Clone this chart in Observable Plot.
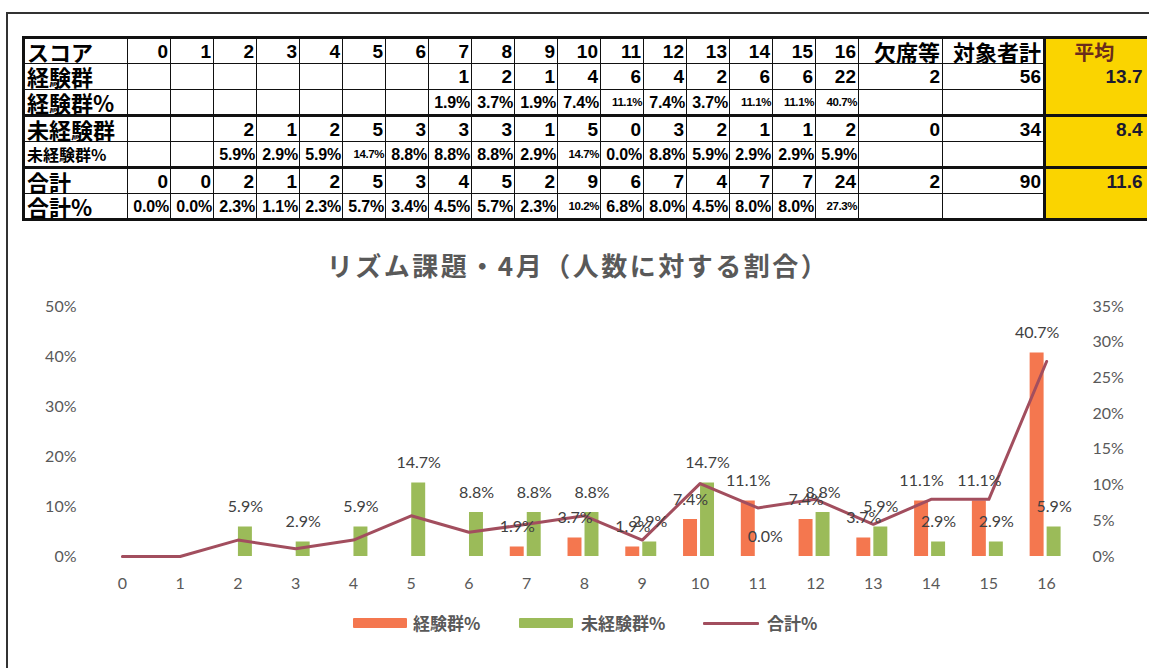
<!DOCTYPE html>
<html><head><meta charset="utf-8">
<script src="https://cdn.jsdelivr.net/npm/d3@7"></script>
<script src="https://cdn.jsdelivr.net/npm/@observablehq/plot@0.6"></script>
<style>
html,body{margin:0;padding:0;background:#fff;}
#page{position:relative;width:1149px;height:668px;overflow:hidden;background:#fff;}
#frame{position:absolute;left:6px;top:12px;width:1200px;height:700px;border-top:2px solid #333;border-left:2px solid #333;}
#tbl{position:absolute;left:22px;top:36px;border-collapse:collapse;table-layout:fixed;}
#tbl tr{height:26px;}
#tbl td{height:23px;padding:0 2px 0 0;border:1.5px solid #111;font:bold 19px/23px "Liberation Sans",Arial,sans-serif;text-align:right;color:#000;white-space:nowrap;vertical-align:middle;}
#tbl td.lab{text-align:left;font:bold 22px/23px "Noto Sans CJK JP",sans-serif;padding-left:2px;}
#tbl td.lab.small{font-size:16px;}
#tbl td.pct{font-size:16px;letter-spacing:-0.2px;padding-right:1px;}
#tbl td.pct.tiny{font-size:11.5px;letter-spacing:-0.4px;}
#tbl td.head{font:bold 22px/23px "Noto Sans CJK JP",sans-serif;}
#tbl tr.sep td{border-bottom:3px solid #111;}
#tbl tr.first td{border-top:3px solid #111;}
#tbl tr.last td{border-bottom:3px solid #111;}
#tbl td.c0{border-left:3px solid #111;}
#tbl td.cend{border-right:3px solid #111;}
#tbl td.avg{background:#FAD400;border-top:none;border-right:none;border-bottom:none;color:#1c1a30;padding-right:4px;}
#tbl td.avg.h{text-align:center;font:bold 20px/23px "Noto Sans CJK JP",sans-serif;color:#6a2c1c;}
#title{position:absolute;left:0;top:250px;width:1156px;text-align:center;font:bold 26px/30px "Noto Sans CJK JP",sans-serif;letter-spacing:2.5px;color:#595959;}
#chart{position:absolute;left:0;top:290px;}
.lg{position:absolute;top:612px;font:bold 17px/22px "Noto Sans CJK JP",sans-serif;color:#595959;}
.sw{position:absolute;height:10px;top:618px;border-radius:1px;}
</style></head>
<body><div id="page"><div id="frame"></div><table id="tbl"></table>
<div id="title">リズム課題・4月（人数に対する割合）</div>
<div id="chart"></div>
<div class="sw" style="left:353px;width:54px;background:#F4774F"></div><div class="lg" style="left:413px">経験群%</div>
<div class="sw" style="left:519px;width:54px;background:#9BBB59"></div><div class="lg" style="left:581px">未経験群%</div>
<div class="sw" style="left:703px;width:56px;height:3px;top:622px;background:#A24E5E"></div><div class="lg" style="left:767px">合計%</div>
</div>
<script>
const scores = ["0","1","2","3","4","5","6","7","8","9","10","11","12","13","14","15","16"];
const expCount = [null,null,null,null,null,null,null,1,2,1,4,6,4,2,6,6,22];
const expPct = [null,null,null,null,null,null,null,1.9,3.7,1.9,7.4,11.1,7.4,3.7,11.1,11.1,40.7];
const inexpCount = [null,null,2,1,2,5,3,3,3,1,5,0,3,2,1,1,2];
const inexpPct = [null,null,5.9,2.9,5.9,14.7,8.8,8.8,8.8,2.9,14.7,0.0,8.8,5.9,2.9,2.9,5.9];
const totalCount = [0,0,2,1,2,5,3,4,5,2,9,6,7,4,7,7,24];
const totalPct = [0.0,0.0,2.3,1.1,2.3,5.7,3.4,4.5,5.7,2.3,10.2,6.8,8.0,4.5,8.0,8.0,27.3];
const absent = [2,0,2];
const subjects = [56,34,90];
const averages = [13.7,8.4,11.6];
const rowLabels = ["経験群","経験群%","未経験群","未経験群%","合計","合計%"];
const headerLabel = "スコア", absentLabel = "欠席等", subjectLabel = "対象者計", avgLabel = "平均";
const leftTicks = [0,10,20,30,40,50];
const rightTicks = [0,5,10,15,20,25,30,35];
const seriesNames = ["経験群%","未経験群%","合計%"];
const leftMax = 50, rightMax = 35;

// ---- table ----
const tbl = document.getElementById("tbl");
const cg = document.createElement("colgroup");
[104, ...scores.map(()=>43), 84, 102, 102].forEach(w=>{const c=document.createElement("col");c.style.width=w+"px";cg.appendChild(c);});
tbl.appendChild(cg);
function addRow(cells, cls){
  const tr=document.createElement("tr"); if(cls) tr.className=cls;
  cells.forEach(([t,c])=>{const td=document.createElement("td");td.textContent=t;if(c)td.className=c;tr.appendChild(td);});
  tbl.appendChild(tr);
}
const fmtP = v => v==null ? "" : v.toFixed(1)+"%";
const pc = v => "pct" + (v!=null && fmtP(v).length>4 ? " tiny" : "");
addRow([[headerLabel,"lab c0"],...scores.map(s=>[s,""]),[absentLabel,"head"],[subjectLabel,"head cend"],[avgLabel,"avg h"]],"first");
const counts=[expCount,inexpCount,totalCount], pcts=[expPct,inexpPct,totalPct];
for(let g=0;g<3;g++){
  addRow([[rowLabels[2*g],"lab c0"],...counts[g].map(v=>[v==null?"":String(v),""]),[String(absent[g]),""],[String(subjects[g]),"cend"],[averages[g].toFixed(1),"avg"]]);
  addRow([[rowLabels[2*g+1],"lab c0"+(g===1?" small":"")],...pcts[g].map(v=>[fmtP(v),pc(v)]),["",""],["","cend"],["","avg"]], g<2?"sep":"last");
}

// ---- chart ----
const expRows = scores.map((s,i)=>({s,v:expPct[i]})).filter(d=>d.v!=null);
const inexpRows = scores.map((s,i)=>({s,v:inexpPct[i]})).filter(d=>d.v!=null);
const totalRows = scores.map((s,i)=>({s,v:totalPct[i]}));
const k = leftMax/rightMax;
const orange="#F4774F", green="#9BBB59", rose="#A24E5E";
const chart = Plot.plot({
  width:1149, height:310,
  marginLeft:93, marginRight:74, marginTop:16, marginBottom:44,
  x:{type:"band", domain:scores, padding:0, round:false},
  y:{domain:[0,leftMax]},
  style:{fontFamily:"Lato, 'Noto Sans', sans-serif", fontSize:"16px", color:"#595959", background:"transparent"},
  marks:[
    Plot.axisY({ticks:leftTicks, tickFormat:d=>d+"%", tickSize:0, tickPadding:17, label:null}),
    Plot.axisY({anchor:"right", ticks:rightTicks.map(t=>t*k), tickFormat:d=>Math.round(d/k)+"%", tickSize:0, tickPadding:17, label:null}),
    Plot.axisX({tickSize:0, tickPadding:21, label:null}),
    Plot.barY(expRows,{x:"s", y:"v", fill:orange, insetLeft:12.4, insetRight:31.4}),
    Plot.barY(inexpRows,{x:"s", y:"v", fill:green, insetLeft:29.4, insetRight:14.4}),
    Plot.line(totalRows,{x:"s", y:d=>d.v*k, stroke:rose, strokeWidth:3}),
    Plot.text(expRows,{x:"s", y:"v", text:d=>fmtP(d.v), dx:-9.5, dy:-20, fill:"#404040"}),
    Plot.text(inexpRows,{x:"s", y:"v", text:d=>fmtP(d.v), dx:7.5, dy:-20, fill:"#404040"})
  ]
});
document.getElementById("chart").appendChild(chart);
</script></body></html>
